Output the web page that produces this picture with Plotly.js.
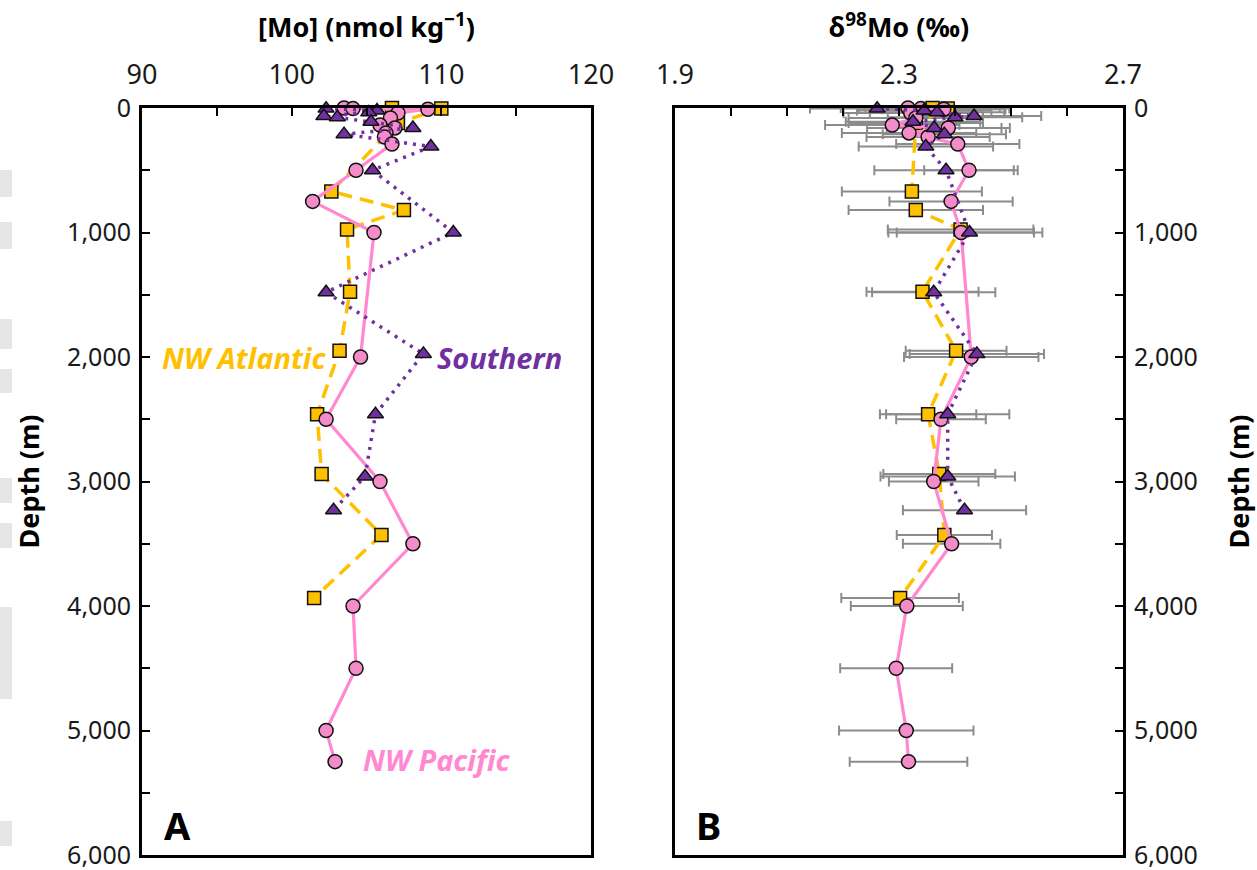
<!DOCTYPE html>
<html>
<head>
<meta charset="utf-8">
<script src="https://cdn.plot.ly/plotly-3.0.1.min.js"></script>
<style>html,body{margin:0;padding:0;background:#fff;}#chart{width:1257px;height:870px;}</style>
</head>
<body>
<div id="chart"></div>
<script>
// ---------- Data ----------
// NW Pacific
const pacDepth = [0, 5, 10, 40, 80, 137, 160, 200, 233, 290, 500, 750, 1000, 2000, 2500, 3000, 3500, 4000, 4500, 5000, 5250];
const pacMo    = [103.5, 104.1, 109.1, 107.1, 106.6, 105.9, 106.9, 106.3, 106.2, 106.7, 104.3, 101.4, 105.5, 104.6, 102.3, 105.9, 108.1, 104.1, 104.3, 102.3, 102.9];
const pacD98   = [2.316, 2.339, 2.380, 2.321, 2.330, 2.288, 2.388, 2.318, 2.352, 2.405, 2.425, 2.393, 2.411, 2.429, 2.375, 2.362, 2.394, 2.314, 2.295, 2.313, 2.317];
const pacErr   = [0.12, 0.11, 0.11, 0.12, 0.12, 0.12, 0.11, 0.12, 0.11, 0.11, 0.08, 0.11, 0.13, 0.12, 0.08, 0.08, 0.087, 0.10, 0.10, 0.12, 0.105];

// NW Atlantic
const atlDepth = [0, 5, 120, 670, 820, 975, 1475, 1950, 2460, 2940, 3430, 3935];
const atlMo    = [106.7, 110.0, 107.1, 102.65, 107.5, 103.7, 103.9, 103.2, 101.7, 102.0, 106.0, 101.5];
const atlD98   = [2.360, 2.387, 2.330, 2.323, 2.330, 2.410, 2.342, 2.402, 2.352, 2.372, 2.381, 2.302];
const atlErr   = [0.12, 0.11, 0.12, 0.125, 0.12, 0.13, 0.10, 0.09, 0.086, 0.10, 0.085, 0.105];

// Southern
const souDepth = [5, 20, 35, 65, 75, 110, 160, 210, 310, 500, 1000, 1480, 1975, 2460, 2960, 3230];
const souMo    = [102.3, 105.7, 105.15, 102.15, 103.05, 105.3, 108.1, 103.5, 109.3, 105.4, 110.8, 102.3, 108.8, 105.6, 104.9, 102.8];
const souD98   = [2.261, 2.345, 2.368, 2.434, 2.400, 2.325, 2.363, 2.381, 2.348, 2.384, 2.426, 2.362, 2.439, 2.387, 2.387, 2.417];
const souErr   = [0.12, 0.12, 0.12, 0.12, 0.12, 0.12, 0.12, 0.11, 0.12, 0.128, 0.13, 0.11, 0.12, 0.11, 0.12, 0.11];

const xTitleA = '<b>[Mo] (nmol kg<sup>−1</sup>)</b>';
const xTitleB = '<b>δ<sup>98</sup>Mo (‰)</b>';
const yTitle  = '<b>Depth (m)</b>';

// ---------- Styles ----------
const FONT = 'Noto Sans, Open Sans, DejaVu Sans, sans-serif';
const cPac = '#FF88D0', cPacFill = '#F38CC9';
const cAtl = '#FFC000';
const cSou = '#7030A0';

function errTrace(x, y, e) {
  return {
    x: x, y: y, xaxis: 'x2', yaxis: 'y2', type: 'scatter', mode: 'markers',
    marker: {size: 1, color: 'rgba(0,0,0,0)'},
    error_x: {type: 'data', array: e, visible: true, color: '#8C8C8C', thickness: 2, width: 5},
    hoverinfo: 'skip', showlegend: false, cliponaxis: false
  };
}
function series(x, y, xa, ya, line, marker) {
  return {x: x, y: y, xaxis: xa, yaxis: ya, type: 'scatter', mode: 'lines+markers',
          line: line, marker: marker, showlegend: false, cliponaxis: false};
}
const mAtl = {symbol: 'square', size: 13, color: cAtl, line: {color: '#111', width: 1.5}};
const mPac = {symbol: 'circle', size: 14, color: cPacFill, line: {color: '#111', width: 1.5}};
const mSou = {symbol: 'triangle-up', size: 14, color: cSou, line: {color: '#111', width: 1.5}};
const lAtl = {color: cAtl, width: 3.5, dash: '14px,8px'};
const lPac = {color: cPac, width: 3.2};
const lSou = {color: cSou, width: 3.5, dash: '3px,6px'};

const traces = [
  errTrace(atlD98, atlDepth, atlErr),
  errTrace(pacD98, pacDepth, pacErr),
  errTrace(souD98, souDepth, souErr),
  series(atlMo, atlDepth, 'x', 'y', lAtl, mAtl),
  series(pacMo, pacDepth, 'x', 'y', lPac, mPac),
  series(souMo, souDepth, 'x', 'y', lSou, mSou),
  series(atlD98, atlDepth, 'x2', 'y2', lAtl, mAtl),
  series(pacD98, pacDepth, 'x2', 'y2', lPac, mPac),
  series(souD98, souDepth, 'x2', 'y2', lSou, mSou)
];

const xTickFont = {family: FONT, size: 27, color: '#1a1a1a'};
const yTickFont = {family: FONT, size: 25, color: '#1a1a1a'};
const titleFont = {family: FONT, size: 27, color: '#000'};
const minorX = (d) => ({dtick: d, ticks: 'inside', ticklen: 8, tickwidth: 2, tickcolor: '#000', showgrid: false});

const common = {showline: true, mirror: true, linecolor: '#000', linewidth: 3, ticks: 'inside',
  ticklen: 8, tickwidth: 2, tickcolor: '#000', showgrid: false, zeroline: false,
  automargin: false, ticklabeloverflow: 'allow', fixedrange: true};

const layout = {
  width: 1257, height: 870,
  margin: {l: 142, r: 134, t: 108, b: 15},
  paper_bgcolor: '#fff', plot_bgcolor: '#fff',
  font: {family: FONT, color: '#000'},
  xaxis: Object.assign({}, common, {domain: [0, 0.4577], anchor: 'y', side: 'top', tickfont: xTickFont,
    range: [90, 120], tick0: 90, dtick: 10, minor: minorX(5), ticklabelstandoff: 10,
    title: {text: xTitleA, font: titleFont, standoff: 10}}),
  xaxis2: Object.assign({}, common, {domain: [0.5433, 1], anchor: 'y2', side: 'top', tickfont: xTickFont,
    range: [1.9, 2.7], tick0: 1.9, dtick: 0.4, tickformat: '.1f', minor: minorX(0.1), ticklabelstandoff: 10,
    title: {text: xTitleB, font: titleFont, standoff: 10}}),
  yaxis: Object.assign({}, common, {domain: [0, 1], anchor: 'x', side: 'left', tickfont: yTickFont,
    range: [6000, 0], tick0: 0, dtick: 1000, tickformat: ',d', minor: minorX(500), ticklabelstandoff: 3,
    title: {text: yTitle, font: titleFont, standoff: 20}}),
  yaxis2: Object.assign({}, common, {domain: [0, 1], anchor: 'x2', side: 'right', tickfont: yTickFont,
    range: [6000, 0], tick0: 0, dtick: 1000, tickformat: ',d', minor: minorX(500), ticklabelstandoff: 3,
    title: {text: yTitle, font: titleFont, standoff: 37}}),
  annotations: [
    {xref: 'x', yref: 'y', x: 96.8, y: 2000, text: '<b><i>NW Atlantic</i></b>', showarrow: false,
     font: {family: FONT, size: 29, color: cAtl}},
    {xref: 'x', yref: 'y', x: 113.9, y: 2000, text: '<b><i>Southern</i></b>', showarrow: false,
     font: {family: FONT, size: 29, color: cSou}},
    {xref: 'x', yref: 'y', x: 109.7, y: 5235, text: '<b><i>NW Pacific</i></b>', showarrow: false,
     font: {family: FONT, size: 29, color: cPac}},
    {xref: 'x', yref: 'y', x: 92.4, y: 5760, text: '<b>A</b>', showarrow: false,
     font: {family: FONT, size: 38, color: '#000'}},
    {xref: 'x2', yref: 'y2', x: 1.959, y: 5760, text: '<b>B</b>', showarrow: false,
     font: {family: FONT, size: 38, color: '#000'}}
  ],
  shapes: [
    [170, 197], [222, 249], [319, 349], [369, 393], [478, 503], [523, 548], [607, 699], [821, 846]
  ].map(([a, b]) => ({type: 'rect', xref: 'paper', yref: 'paper', layer: 'below',
     x0: -142 / 981, x1: -130 / 981, y0: (855 - b) / 747, y1: (855 - a) / 747,
     fillcolor: '#E6E6E6', line: {width: 0}}))
};

Plotly.newPlot('chart', traces, layout, {displayModeBar: false, staticPlot: true});
</script>
</body>
</html>
